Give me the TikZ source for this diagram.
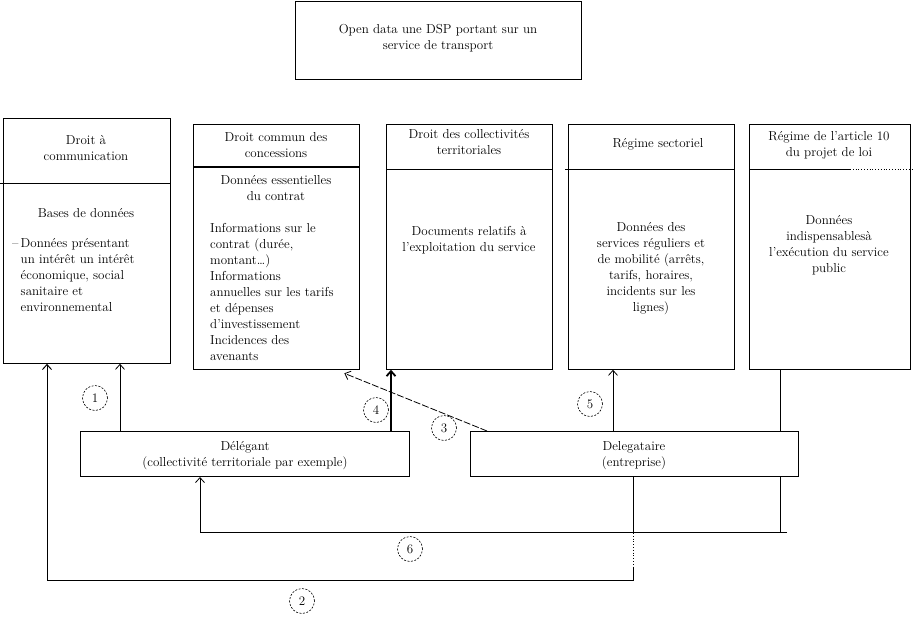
\documentclass[tikz,border=0pt]{standalone}
\usetikzlibrary{arrows.meta,backgrounds,calc}
\begin{document}
\begin{tikzpicture}[x=1pt,y=-1pt,
  every node/.style={font=\fontsize{13}{16}\selectfont},
  box/.style={draw, line width=0.8pt, inner sep=0, anchor=north west, fill=white},
  txt/.style={inner sep=0, align=center},
  ltxt/.style={inner sep=0, align=left, anchor=west},
  circ/.style={draw, circle, dash pattern=on 2pt off 1.5pt, line width=0.6pt, minimum size=25pt, inner sep=0},
  arr/.style={-{Straight Barb[length=5pt,width=9pt]}, line width=0.8pt},
  divider/.style={line width=0.8pt},
]
\useasboundingbox (0,0) rectangle (913,619);

% top box
\node[box, minimum width=286pt, minimum height=78pt] (top) at (295,1) {};
\node[txt] (toptxt) at (438,38.5) {Open data une DSP portant sur un\\service de transport};

% column boxes
\node[box, minimum width=167pt, minimum height=245pt] (b1) at (3,118) {};
\node[box, minimum width=166pt, minimum height=245pt, line width=1.3pt] (b2) at (193,124) {};
\node[box, minimum width=166pt, minimum height=245pt] (b3) at (386,124) {};
\node[box, minimum width=166pt, minimum height=245pt] (b4) at (568,124) {};
\node[box, minimum width=161pt, minimum height=245pt] (b5) at (749,124) {};

% dividers
\draw[divider] (0,183) -- (b1.east |- 0,183);
\draw[line width=1.3pt] (b2.west |- 0,167) -- (b2.east |- 0,167);
\draw[divider] (b3.west |- 0,169) -- (b3.east |- 0,169);
\draw[divider] (565,169) -- (b4.east |- 0,169);
\draw[divider] (b5.west |- 0,169) -- (850,169);
\draw[line width=0.8pt, dotted] (850,169) -- (912,169);

% column texts
\node[txt] (t1) at (86,148) {Droit à\\communication};
\node[txt] (t1a) at (86,213) {Bases de données};
\node[ltxt] (t1b) at (12,275) {–\,Données présentant\\\phantom{–\,}un intérêt un intérêt\\\phantom{–\,}économique, social\\\phantom{–\,}sanitaire et\\\phantom{–\,}environnemental};

\node[txt] (t2) at (276,145) {Droit commun des\\concessions};
\node[txt] (t2a) at (276,188) {Données essentielles\\du contrat};
\node[ltxt] (t2b) at (210,292) {Informations sur le\\contrat (durée,\\montant…)\\Informations\\annuelles sur les tarifs\\et dépenses\\d’investissement\\Incidences des\\avenants};

\node[txt] (t3) at (469,142.5) {Droit des collectivités\\territoriales};
\node[txt] (t3a) at (469,240) {Documents relatifs à\\l’exploitation du service};

\node[txt] (t4) at (658,144) {Régime sectoriel};
\node[txt] (t4a) at (651,268.5) {Données des\\services réguliers et\\de mobilité (arrêts,\\tarifs, horaires,\\incidents sur les\\lignes)};

\node[txt] (t5) at (829,145.5) {Régime de l’article 10\\du projet de loi};
\node[txt] (t5a) at (829,245) {Données\\indispensablesà\\l’exécution du service\\public};

% bottom boxes
\node[box, minimum width=329pt, minimum height=45pt, line width=1pt] (dgt1) at (80,431) {};
\node[txt] (dgt1t) at (245,455.5) {Délégant\\(collectivité territoriale par exemple)};
\node[box, minimum width=328pt, minimum height=45pt, line width=1pt] (dgt2) at (470,431) {};
\node[txt] (dgt2t) at (634,455.5) {Delegataire\\(entreprise)};

% anchor coordinates for connectors
\coordinate (a1) at ($(dgt1.north west)+(40,0)$);
\coordinate (a5) at ($(dgt2.north west)+(143,0)$);
\coordinate (a6) at ($(b5.south west)+(31,0)$);
\coordinate (e6) at ($(dgt1.south west)+(120,0)$);

% connectors (behind boxes)
\begin{scope}[on background layer]
  % 6
  \draw[line width=0.8pt] (a6) -- ++(0,163) coordinate (c6);
  \draw[arr] ($(c6)+(7,0)$) -- (e6 |- c6) -- (e6);
\end{scope}

% 1
\draw[arr] (a1) -- (a1 |- b1.south);
% 4
\draw[-{Straight Barb[length=5pt,width=9pt]}, line width=1.8pt] ($(b3.south west)+(5,62)$) -- ($(b3.south west)+(5,0)$);
% 5
\draw[arr] (a5) -- (a5 |- b4.south);
% 3
\draw[arr, dash pattern=on 7pt off 2pt] ($(dgt2.north west)+(17,0)$) -- ($(b2.south east)+(-16,3)$);
% 2
\draw[line width=0.8pt] ($(dgt2.south west)+(163,0)$) -- ++(0,56) coordinate (p2a);
\draw[line width=0.8pt, dotted] (p2a) -- ++(0,35) coordinate (p2b);
\draw[arr, line width=1pt] (p2b) -- ++(0,12) -| ($(b1.south west)+(44,0)$);

% circled numbers
\node[circ] (n1) at (95,398) {1};
\node[circ] (n2) at (302,601) {2};
\node[circ] (n3) at (444,428) {3};
\node[circ] (n4) at (376,410) {4};
\node[circ] (n5) at (590,404) {5};
\node[circ] (n6) at (410,549) {6};
\end{tikzpicture}
\end{document}
